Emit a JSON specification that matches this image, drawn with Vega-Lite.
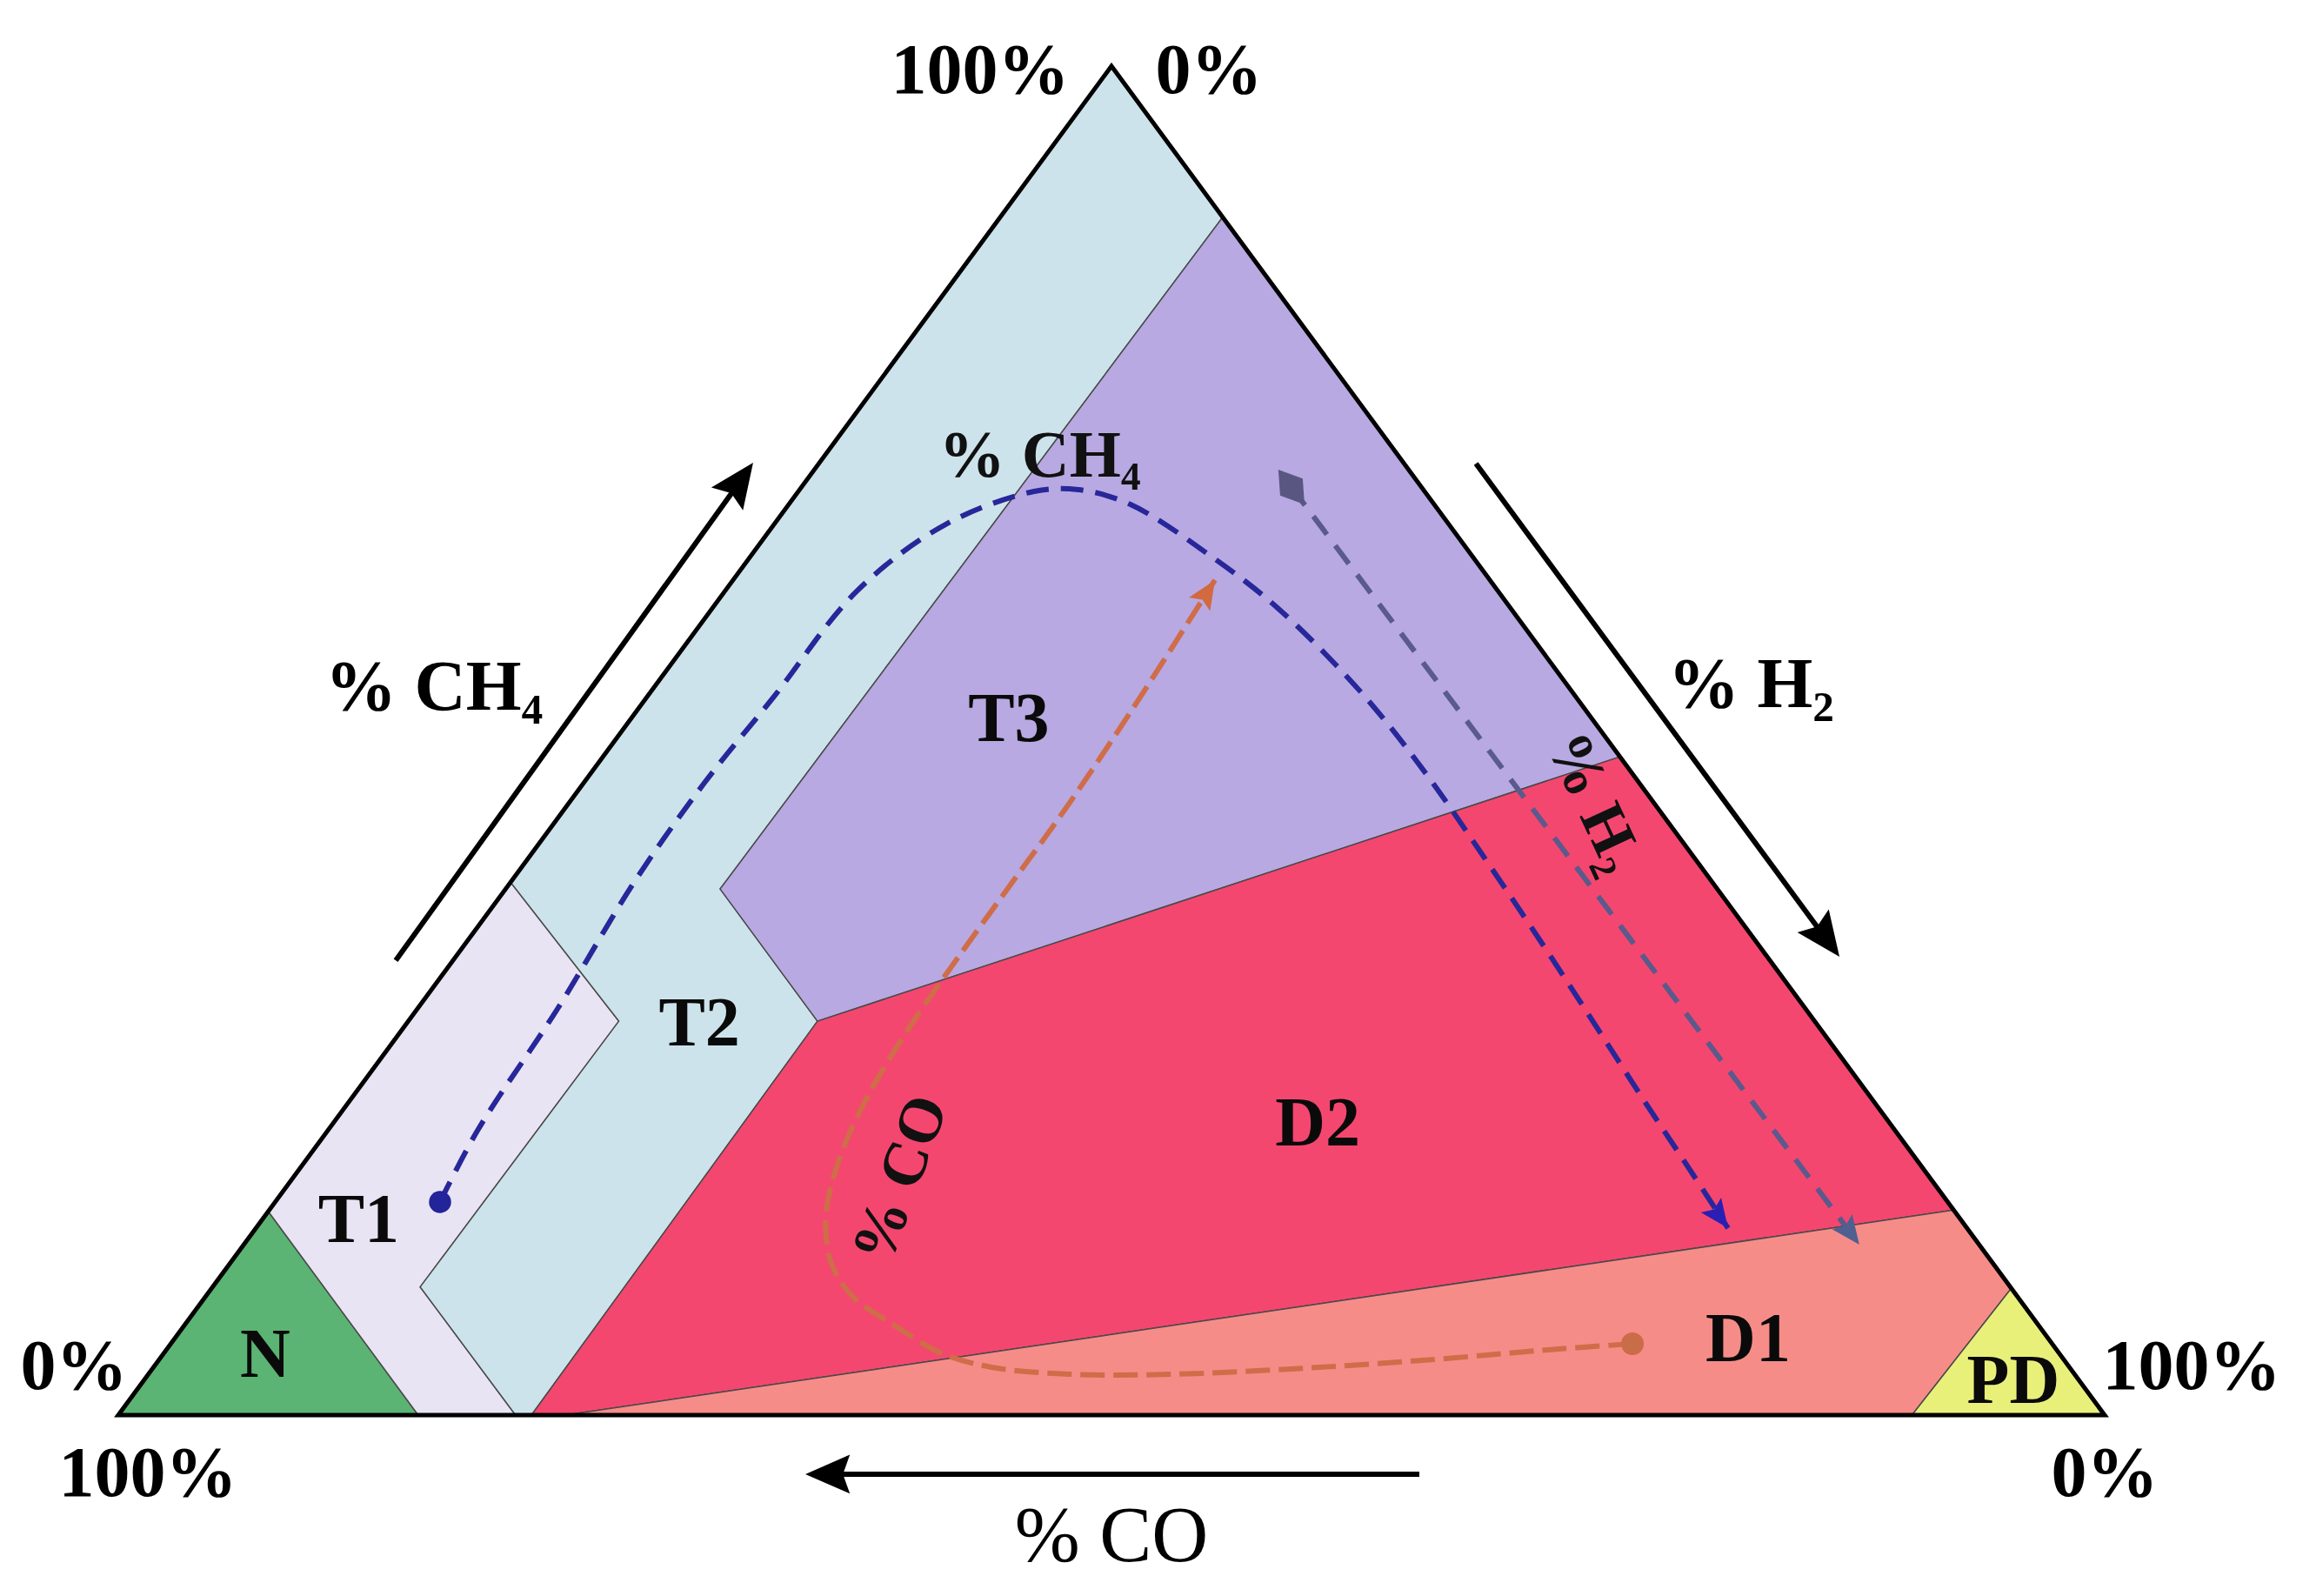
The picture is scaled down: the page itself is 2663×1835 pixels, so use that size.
{
  "$schema": "https://vega.github.io/schema/vega-lite/v6.json",
  "width": 2663,
  "height": 1835,
  "autosize": {"type": "fit", "contains": "padding"},
  "padding": 0,
  "background": "white",
  "config": {"view": {"stroke": null}},
  "datasets": {
    "regions": [
      {"region": "N", "i": 0, "X": 0, "Y": 0}, {"region": "N", "i": 1, "X": 7.55, "Y": 15.1}, {"region": "N", "i": 2, "X": 15.1, "Y": 0}, {"region": "N", "i": 3, "X": 0, "Y": 0},
      {"region": "T1", "i": 0, "X": 7.55, "Y": 15.1}, {"region": "T1", "i": 1, "X": 19.75, "Y": 39.5}, {"region": "T1", "i": 2, "X": 25.2, "Y": 29.2}, {"region": "T1", "i": 3, "X": 15.2, "Y": 9.5}, {"region": "T1", "i": 4, "X": 20.0, "Y": 0}, {"region": "T1", "i": 5, "X": 15.1, "Y": 0}, {"region": "T1", "i": 6, "X": 7.55, "Y": 15.1},
      {"region": "T2", "i": 0, "X": 50, "Y": 100}, {"region": "T2", "i": 1, "X": 55.6, "Y": 88.8}, {"region": "T2", "i": 2, "X": 30.3, "Y": 39.0}, {"region": "T2", "i": 3, "X": 35.2, "Y": 29.2}, {"region": "T2", "i": 4, "X": 20.8, "Y": 0}, {"region": "T2", "i": 5, "X": 20.0, "Y": 0}, {"region": "T2", "i": 6, "X": 15.2, "Y": 9.5}, {"region": "T2", "i": 7, "X": 25.2, "Y": 29.2}, {"region": "T2", "i": 8, "X": 19.75, "Y": 39.5}, {"region": "T2", "i": 9, "X": 50, "Y": 100},
      {"region": "T3", "i": 0, "X": 55.6, "Y": 88.8}, {"region": "T3", "i": 1, "X": 75.6, "Y": 48.8}, {"region": "T3", "i": 2, "X": 35.2, "Y": 29.2}, {"region": "T3", "i": 3, "X": 30.3, "Y": 39.0}, {"region": "T3", "i": 4, "X": 55.6, "Y": 88.8},
      {"region": "D2", "i": 0, "X": 20.8, "Y": 0}, {"region": "D2", "i": 1, "X": 35.2, "Y": 29.2}, {"region": "D2", "i": 2, "X": 75.6, "Y": 48.8}, {"region": "D2", "i": 3, "X": 92.4, "Y": 15.2}, {"region": "D2", "i": 4, "X": 22.5, "Y": 0}, {"region": "D2", "i": 5, "X": 20.8, "Y": 0},
      {"region": "D1", "i": 0, "X": 22.5, "Y": 0}, {"region": "D1", "i": 1, "X": 92.4, "Y": 15.2}, {"region": "D1", "i": 2, "X": 95.3, "Y": 9.4}, {"region": "D1", "i": 3, "X": 90.3, "Y": 0}, {"region": "D1", "i": 4, "X": 22.5, "Y": 0},
      {"region": "PD", "i": 0, "X": 90.3, "Y": 0}, {"region": "PD", "i": 1, "X": 95.3, "Y": 9.4}, {"region": "PD", "i": 2, "X": 100, "Y": 0}, {"region": "PD", "i": 3, "X": 90.3, "Y": 0}
    ],
    "outline": [
      {"i": 0, "X": 0, "Y": 0}, {"i": 1, "X": 50, "Y": 100}, {"i": 2, "X": 100, "Y": 0}, {"i": 3, "X": 0, "Y": 0}, {"i": 4, "X": 50, "Y": 100}
    ],
    "curves": [
      {"c": "blue", "i": 0, "X": 16.20, "Y": 15.80}, {"c": "blue", "i": 1, "X": 18.08, "Y": 21.08}, {"c": "blue", "i": 2, "X": 22.11, "Y": 30.11}, {"c": "blue", "i": 3, "X": 26.01, "Y": 39.59}, {"c": "blue", "i": 4, "X": 29.51, "Y": 46.87}, {"c": "blue", "i": 5, "X": 33.01, "Y": 53.26}, {"c": "blue", "i": 6, "X": 37.17, "Y": 61.06}, {"c": "blue", "i": 7, "X": 41.64, "Y": 66.02}, {"c": "blue", "i": 8, "X": 46.10, "Y": 68.47}, {"c": "blue", "i": 9, "X": 48.34, "Y": 68.60}, {"c": "blue", "i": 10, "X": 50.96, "Y": 67.50}, {"c": "blue", "i": 11, "X": 55.04, "Y": 63.64}, {"c": "blue", "i": 12, "X": 58.41, "Y": 59.77}, {"c": "blue", "i": 13, "X": 62.61, "Y": 53.51}, {"c": "blue", "i": 14, "X": 65.85, "Y": 47.52}, {"c": "blue", "i": 15, "X": 68.74, "Y": 41.39}, {"c": "blue", "i": 16, "X": 71.54, "Y": 35.27}, {"c": "blue", "i": 17, "X": 74.26, "Y": 29.14}, {"c": "blue", "i": 18, "X": 76.80, "Y": 23.34}, {"c": "blue", "i": 19, "X": 78.98, "Y": 18.50}, {"c": "blue", "i": 20, "X": 81.04, "Y": 13.86},
      {"c": "gray", "i": 0, "X": 59.06, "Y": 68.79}, {"c": "gray", "i": 1, "X": 87.65, "Y": 12.64},
      {"c": "orange", "i": 0, "X": 76.23, "Y": 5.29}, {"c": "orange", "i": 1, "X": 71.98, "Y": 4.84}, {"c": "orange", "i": 2, "X": 66.29, "Y": 4.13}, {"c": "orange", "i": 3, "X": 59.72, "Y": 3.48}, {"c": "orange", "i": 4, "X": 53.15, "Y": 3.03}, {"c": "orange", "i": 5, "X": 47.90, "Y": 3.03}, {"c": "orange", "i": 6, "X": 43.96, "Y": 3.55}, {"c": "orange", "i": 7, "X": 41.46, "Y": 4.58}, {"c": "orange", "i": 8, "X": 39.14, "Y": 6.58}, {"c": "orange", "i": 9, "X": 36.95, "Y": 8.83}, {"c": "orange", "i": 10, "X": 35.86, "Y": 11.41}, {"c": "orange", "i": 11, "X": 35.64, "Y": 14.96}, {"c": "orange", "i": 12, "X": 36.34, "Y": 19.15}, {"c": "orange", "i": 13, "X": 37.74, "Y": 23.66}, {"c": "orange", "i": 14, "X": 39.58, "Y": 28.18}, {"c": "orange", "i": 15, "X": 41.99, "Y": 33.33}, {"c": "orange", "i": 16, "X": 44.83, "Y": 39.14}, {"c": "orange", "i": 17, "X": 47.68, "Y": 44.94}, {"c": "orange", "i": 18, "X": 50.92, "Y": 52.03}, {"c": "orange", "i": 19, "X": 55.21, "Y": 61.90}
    ],
    "arrows": [
      {"X": 13.97, "Y": 33.7, "X2": 31.2, "Y2": 69.0},
      {"X": 68.35, "Y": 70.53, "X2": 85.86, "Y2": 35.53},
      {"X": 65.5, "Y": -4.38, "X2": 35.9, "Y2": -4.38}
    ],
    "heads": [
      {"g": "UR", "X": 31.96, "Y": 70.6},
      {"g": "DR", "X": 86.65, "Y": 33.98},
      {"g": "L", "X": 34.59, "Y": -4.38},
      {"g": "blue", "X": 81.04, "Y": 13.86},
      {"g": "gray", "X": 87.65, "Y": 12.64},
      {"g": "orange", "X": 55.21, "Y": 61.90}
    ],
    "dots": [
      {"g": "blue", "X": 16.20, "Y": 15.80},
      {"g": "orange", "X": 76.23, "Y": 5.29},
      {"g": "gray", "X": 59.06, "Y": 68.79}
    ],
    "labels": [
      {"g": "pct", "label": "100%", "X": 43.39, "Y": 98.0},
      {"g": "pct", "label": "0%", "X": 54.90, "Y": 98.0},
      {"g": "pct", "label": "0%", "X": -2.23, "Y": 1.93},
      {"g": "pct", "label": "100%", "X": 1.49, "Y": -6.0},
      {"g": "pct", "label": "100%", "X": 104.38, "Y": 1.93},
      {"g": "pct", "label": "0%", "X": 100.0, "Y": -6.0},
      {"g": "axis", "label": "% CH₄", "X": 15.9, "Y": 52.3},
      {"g": "axis", "label": "% H₂", "X": 82.2, "Y": 52.5},
      {"g": "axisco", "label": "% CO", "X": 50.0, "Y": -10.85},
      {"g": "region", "label": "N", "X": 7.40, "Y": 2.84},
      {"g": "region", "label": "T1", "X": 12.1, "Y": 12.8},
      {"g": "region", "label": "T2", "X": 29.25, "Y": 27.4},
      {"g": "region", "label": "T3", "X": 44.83, "Y": 50.0},
      {"g": "region", "label": "D2", "X": 60.38, "Y": 20.0},
      {"g": "region", "label": "D1", "X": 82.05, "Y": 4.0},
      {"g": "region", "label": "PD", "X": 95.40, "Y": 0.9},
      {"g": "innerch4", "label": "% CH₄", "X": 46.4, "Y": 69.6},
      {"g": "innerh2", "label": "% H₂", "X": 74.3, "Y": 45.4},
      {"g": "innerco", "label": "% CO", "X": 39.4, "Y": 17.5}
    ]
  },
  "encoding": {
    "x": {"field": "X", "type": "quantitative", "scale": {"domain": [-5.954, 110.64], "nice": false, "zero": false}, "axis": null},
    "y": {"field": "Y", "type": "quantitative", "scale": {"domain": [-13.41, 104.9], "nice": false, "zero": false}, "axis": null}
  },
  "layer": [
    {
      "data": {"name": "regions"},
      "mark": {"type": "line", "filled": true, "stroke": "#4a4a4a", "strokeWidth": 1.5, "strokeJoin": "miter", "opacity": 1},
      "encoding": {
        "detail": {"field": "region", "type": "nominal"},
        "order": {"field": "i", "type": "quantitative"},
        "color": {"field": "region", "type": "nominal", "legend": null,
          "scale": {"domain": ["N", "T1", "T2", "T3", "D2", "D1", "PD"], "range": ["#5bb473", "#e8e4f4", "#cde3eb", "#b8a9e2", "#f4476f", "#f68c88", "#e8f07a"]}}
      }
    },
    {
      "data": {"name": "outline"},
      "mark": {"type": "line", "color": "#000000", "strokeWidth": 5, "strokeJoin": "miter"},
      "encoding": {"order": {"field": "i", "type": "quantitative"}}
    },
    {
      "data": {"name": "curves"},
      "transform": [{"filter": "datum.c == 'blue'"}],
      "mark": {"type": "line", "color": "#27279a", "strokeWidth": 6, "strokeDash": [26, 14], "interpolate": "catmull-rom"},
      "encoding": {"order": {"field": "i", "type": "quantitative"}}
    },
    {
      "data": {"name": "curves"},
      "transform": [{"filter": "datum.c == 'gray'"}],
      "mark": {"type": "line", "color": "#5a5a8c", "strokeWidth": 6, "strokeDash": [26, 16]},
      "encoding": {"order": {"field": "i", "type": "quantitative"}}
    },
    {
      "data": {"name": "curves"},
      "transform": [{"filter": "datum.c == 'orange'"}],
      "mark": {"type": "line", "color": "#cf6d49", "strokeWidth": 6, "strokeDash": [28, 10], "interpolate": "catmull-rom"},
      "encoding": {"order": {"field": "i", "type": "quantitative"}}
    },
    {
      "data": {"name": "arrows"},
      "mark": {"type": "rule", "color": "#000000", "strokeWidth": 6},
      "encoding": {"x2": {"field": "X2"}, "y2": {"field": "Y2"}}
    },
    {
      "data": {"name": "heads"},
      "transform": [{"filter": "datum.g == 'UR'"}],
      "mark": {"type": "point", "shape": "M0,0L0.7,1.6L0,1.35L-0.7,1.6Z", "filled": true, "color": "#000000", "opacity": 1, "size": 4096, "angle": 35.7}
    },
    {
      "data": {"name": "heads"},
      "transform": [{"filter": "datum.g == 'DR'"}],
      "mark": {"type": "point", "shape": "M0,0L0.7,1.6L0,1.35L-0.7,1.6Z", "filled": true, "color": "#000000", "opacity": 1, "size": 4096, "angle": 143.6}
    },
    {
      "data": {"name": "heads"},
      "transform": [{"filter": "datum.g == 'L'"}],
      "mark": {"type": "point", "shape": "M0,0L0.7,1.6L0,1.35L-0.7,1.6Z", "filled": true, "color": "#000000", "opacity": 1, "size": 4096, "angle": 270}
    },
    {
      "data": {"name": "heads"},
      "transform": [{"filter": "datum.g == 'blue'"}],
      "mark": {"type": "point", "shape": "M0,0L0.7,1.6L0,1.3L-0.7,1.6Z", "filled": true, "color": "#2a1fb4", "opacity": 1, "size": 1700, "angle": 143.7}
    },
    {
      "data": {"name": "heads"},
      "transform": [{"filter": "datum.g == 'gray'"}],
      "mark": {"type": "point", "shape": "M0,0L0.7,1.6L0,1.3L-0.7,1.6Z", "filled": true, "color": "#4f6090", "opacity": 1, "size": 1700, "angle": 143.1}
    },
    {
      "data": {"name": "heads"},
      "transform": [{"filter": "datum.g == 'orange'"}],
      "mark": {"type": "point", "shape": "M0,0L0.7,1.6L0,1.3L-0.7,1.6Z", "filled": true, "color": "#d2693f", "opacity": 1, "size": 1700, "angle": 32.6}
    },
    {
      "data": {"name": "dots"},
      "transform": [{"filter": "datum.g == 'blue'"}],
      "mark": {"type": "circle", "color": "#23239a", "opacity": 1, "size": 650}
    },
    {
      "data": {"name": "dots"},
      "transform": [{"filter": "datum.g == 'orange'"}],
      "mark": {"type": "circle", "color": "#c96c48", "opacity": 1, "size": 680}
    },
    {
      "data": {"name": "dots"},
      "transform": [{"filter": "datum.g == 'gray'"}],
      "mark": {"type": "point", "shape": "M0,-1L0.65,0L0,1L-0.65,0Z", "filled": true, "color": "#5a5682", "opacity": 1, "size": 2500, "angle": 143}
    },
    {
      "data": {"name": "labels"},
      "transform": [{"filter": "datum.g == 'pct'"}],
      "mark": {"type": "text", "font": "Liberation Serif", "fontWeight": "bold", "fontSize": 82, "align": "center", "baseline": "alphabetic", "color": "#000000"},
      "encoding": {"text": {"field": "label"}}
    },
    {
      "data": {"name": "labels"},
      "transform": [{"filter": "datum.g == 'axis'"}],
      "mark": {"type": "text", "font": "Liberation Serif", "fontWeight": "bold", "fontSize": 82, "align": "center", "baseline": "alphabetic", "color": "#000000"},
      "encoding": {"text": {"field": "label"}}
    },
    {
      "data": {"name": "labels"},
      "transform": [{"filter": "datum.g == 'axisco'"}],
      "mark": {"type": "text", "font": "Liberation Serif", "fontWeight": "normal", "fontSize": 90, "align": "center", "baseline": "alphabetic", "color": "#000000"},
      "encoding": {"text": {"field": "label"}}
    },
    {
      "data": {"name": "labels"},
      "transform": [{"filter": "datum.g == 'region'"}],
      "mark": {"type": "text", "font": "Liberation Serif", "fontWeight": "bold", "fontSize": 80, "align": "center", "baseline": "alphabetic", "color": "#0a0a0a"},
      "encoding": {"text": {"field": "label"}}
    },
    {
      "data": {"name": "labels"},
      "transform": [{"filter": "datum.g == 'innerch4'"}],
      "mark": {"type": "text", "font": "Liberation Serif", "fontWeight": "bold", "fontSize": 76, "align": "center", "baseline": "alphabetic", "color": "#111111"},
      "encoding": {"text": {"field": "label"}}
    },
    {
      "data": {"name": "labels"},
      "transform": [{"filter": "datum.g == 'innerh2'"}],
      "mark": {"type": "text", "font": "Liberation Serif", "fontWeight": "bold", "fontSize": 72, "align": "center", "baseline": "middle", "angle": 65, "color": "#111111"},
      "encoding": {"text": {"field": "label"}}
    },
    {
      "data": {"name": "labels"},
      "transform": [{"filter": "datum.g == 'innerco'"}],
      "mark": {"type": "text", "font": "Liberation Serif", "fontWeight": "bold", "fontSize": 72, "align": "center", "baseline": "middle", "angle": -70, "color": "#111111"},
      "encoding": {"text": {"field": "label"}}
    }
  ]
}
